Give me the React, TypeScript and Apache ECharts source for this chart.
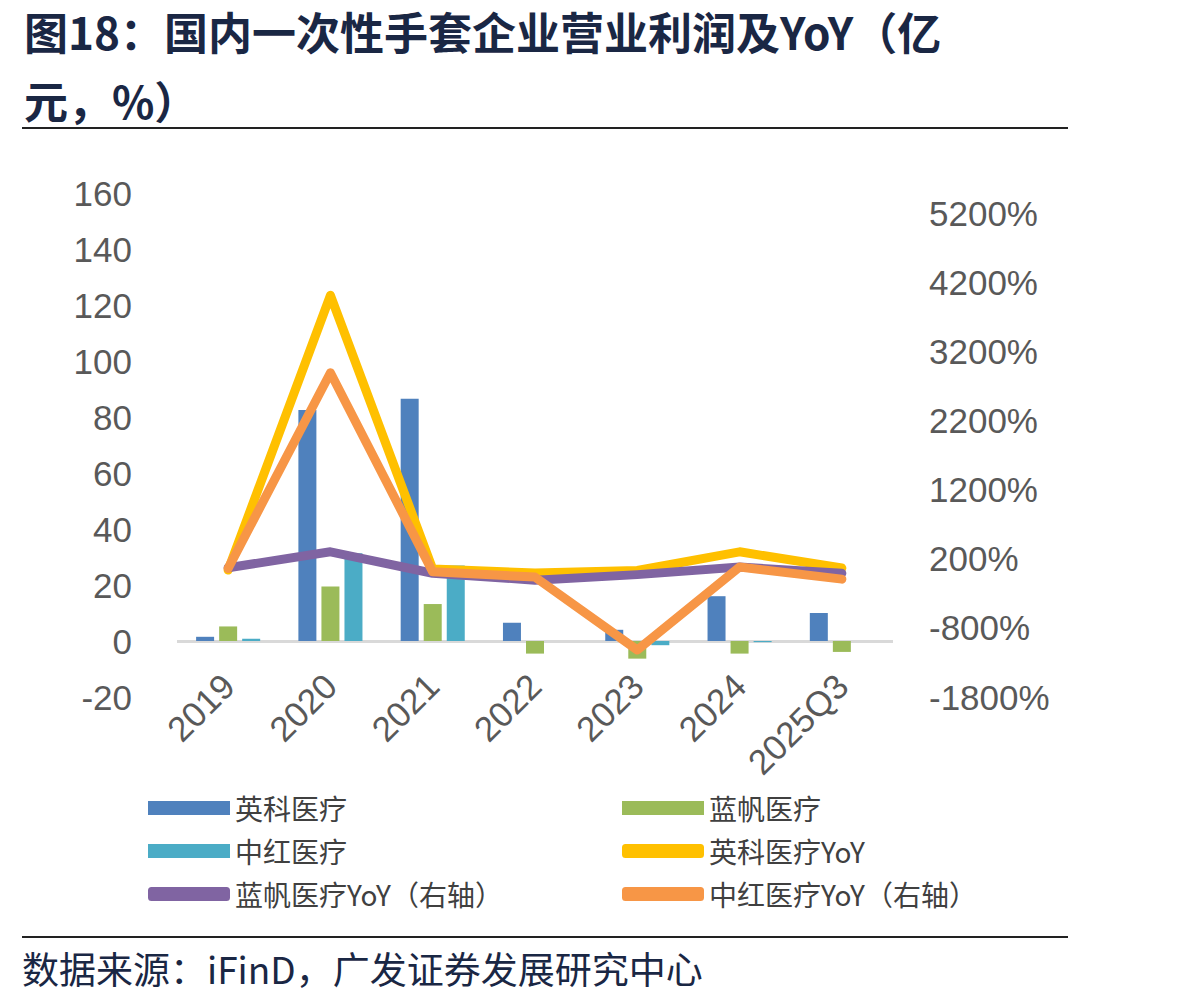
import React, { useEffect, useRef } from "react";
import * as echarts from "echarts";

const categories = ["2019", "2020", "2021", "2022", "2023", "2024", "2025Q3"];
// Operating profit (亿元), left axis
const yingkeProfit = [1.5, 82.5, 86.5, 6.5, 4, 16, 10];
const lanfanProfit = [5.2, 19.5, 13.2, -4.5, -6.3, -4.5, -3.9];
const zhonghongProfit = [0.8, 31.3, 27, 0, -1.5, -0.4, 0];
// YoY (%), right axis
const yingkeYoY = [36, 4010, 50, -5, 30, 300, 65];
const lanfanYoY = [70, 300, -10, -110, -30, 80, -10];
const zhonghongYoY = [60, 2890, 10, -65, -1120, 80, -95];

const leftTicks = { min: -20, max: 160, interval: 20 };
const rightTicks = { min: -1800, max: 5490, interval: 1000 };

const titleLine1 = "图18：国内一次性手套企业营业利润及YoY（亿";
const titleLine2 = "元，%）";
const sourceText = "数据来源：iFinD，广发证券发展研究中心";

const names = {
  yk: "英科医疗",
  lf: "蓝帆医疗",
  zh: "中红医疗",
  ykY: "英科医疗YoY",
  lfY: "蓝帆医疗YoY（右轴）",
  zhY: "中红医疗YoY（右轴）",
};

const colors = {
  yk: "#4F81BD",
  lf: "#9BBB59",
  zh: "#4BACC6",
  ykY: "#FFC000",
  lfY: "#8064A2",
  zhY: "#F79646",
};

export default function App() {
  const ref = useRef<HTMLDivElement>(null);
  useEffect(() => {
    if (!ref.current) return;
    const chart = echarts.init(ref.current, undefined, { renderer: "svg" });
    const axisFont = {
      fontFamily: "Liberation Sans, Arial, sans-serif",
      fontSize: 35,
      color: "#595959",
    };
    const legendText = {
      fontFamily: "Noto Sans CJK SC",
      fontSize: 28,
      color: "#404040",
      lineHeight: 30,
    };
    const titleStyle = {
      fontFamily: "Noto Sans CJK SC",
      fontWeight: "bold",
      fontSize: 44,
      lineHeight: 46,
      fill: "#1a2744",
      verticalAlign: "middle",
      align: "left",
    };
    const barSeries = (name: string, data: number[], color: string, extra: any = {}) => ({
      type: "bar",
      name,
      data,
      yAxisIndex: 0,
      barWidth: 18,
      barGap: "28%",
      itemStyle: { color },
      ...extra,
    });
    const lineSeries = (name: string, data: number[], color: string) => ({
      type: "line",
      name,
      data,
      yAxisIndex: 1,
      symbol: "none",
      lineStyle: { color, width: 9, cap: "round", join: "round" },
      itemStyle: { color },
    });
    chart.setOption({
      animation: false,
      grid: { left: 177, right: 288, top: 193, bottom: 309, containLabel: false },
      legend: [
        {
          left: 148,
          top: 793,
          padding: 0,
          orient: "vertical",
          itemWidth: 82,
          itemHeight: 14,
          itemGap: 13,
          textStyle: legendText,
          data: [
            { name: names.yk, icon: "rect" },
            { name: names.zh, icon: "rect" },
            { name: names.lfY, icon: "roundRect" },
          ],
        },
        {
          left: 622,
          top: 793,
          padding: 0,
          orient: "vertical",
          itemWidth: 82,
          itemHeight: 14,
          itemGap: 13,
          textStyle: legendText,
          data: [
            { name: names.lf, icon: "rect" },
            { name: names.ykY, icon: "roundRect" },
            { name: names.zhY, icon: "roundRect" },
          ],
        },
      ],
      xAxis: {
        type: "category",
        data: categories,
        offset: -17,
        axisLine: { show: false },
        axisTick: { show: false },
        axisLabel: { ...axisFont, rotate: 45, margin: 0, interval: 0 },
        splitLine: { show: false },
      },
      yAxis: [
        {
          type: "value",
          min: leftTicks.min,
          max: leftTicks.max,
          interval: leftTicks.interval,
          axisLine: { show: false },
          axisTick: { show: false },
          splitLine: { show: false },
          axisLabel: { ...axisFont, margin: 45 },
        },
        {
          type: "value",
          position: "right",
          min: rightTicks.min,
          max: rightTicks.max,
          interval: rightTicks.interval,
          axisLine: { show: false },
          axisTick: { show: false },
          splitLine: { show: false },
          axisLabel: {
            ...axisFont,
            margin: 36,
            showMaxLabel: false,
            formatter: (v: number) =>
              (v - rightTicks.min) % rightTicks.interval === 0 ? `${v}%` : "",
          },
        },
      ],
      series: [
        barSeries(names.yk, yingkeProfit, colors.yk, {
          markLine: {
            silent: true,
            symbol: "none",
            label: { show: false },
            lineStyle: { color: "#D9D9D9", width: 3, type: "solid" },
            data: [{ yAxis: 0 }],
            z: 1,
          },
        }),
        barSeries(names.lf, lanfanProfit, colors.lf),
        barSeries(names.zh, zhonghongProfit, colors.zh),
        lineSeries(names.ykY, yingkeYoY, colors.ykY),
        lineSeries(names.lfY, lanfanYoY, colors.lfY),
        lineSeries(names.zhY, zhonghongYoY, colors.zhY),
      ],
      graphic: [
        {
          type: "text",
          x: 24,
          y: 31,
          style: { ...titleStyle, text: titleLine1 },
        },
        {
          type: "text",
          x: 24,
          y: 100,
          style: { ...titleStyle, text: titleLine2 },
        },
        {
          type: "line",
          shape: { x1: 22, y1: 128, x2: 1068, y2: 128 },
          style: { stroke: "#222", lineWidth: 2 },
        },
        {
          type: "line",
          shape: { x1: 22, y1: 937, x2: 1068, y2: 937 },
          style: { stroke: "#222", lineWidth: 2 },
        },
        {
          type: "text",
          left: 22,
          top: 949,
          style: {
            text: sourceText,
            fontFamily: "Noto Sans CJK SC",
            fontSize: 37,
            fill: "#1a2744",
          },
        },
      ],
    });
    return () => chart.dispose();
  }, []);
  return (
    <div
      ref={ref}
      style={{ position: "absolute", left: 0, top: 0, width: 1181, height: 1006, background: "#fff" }}
    />
  );
}
